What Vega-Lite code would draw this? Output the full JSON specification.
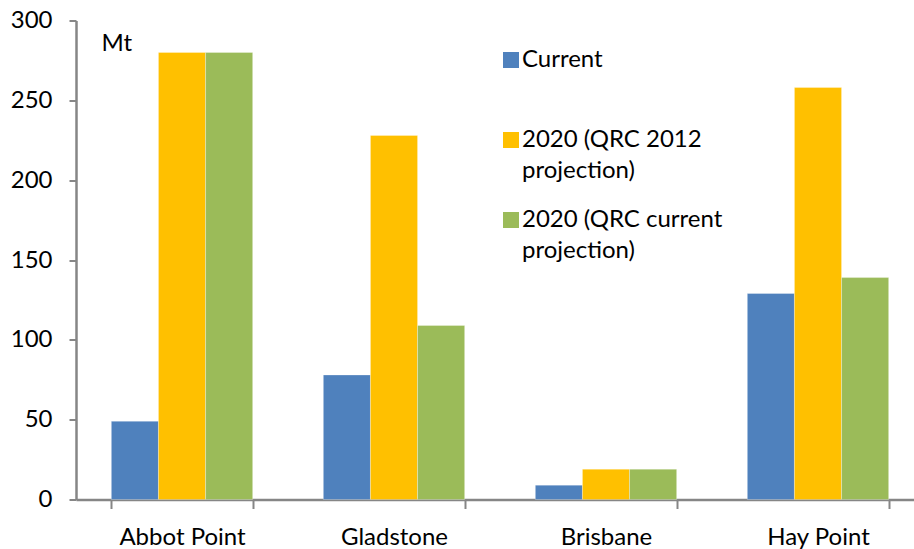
{
  "$schema": "https://vega.github.io/schema/vega-lite/v6.json",
  "width": 848,
  "height": 479,
  "autosize": "none",
  "padding": {"left": 76, "top": 20.5, "right": 0, "bottom": 49.5},
  "config": {
    "view": {"stroke": null},
    "font": "Lato",
    "axis": {"grid": false, "labelFont": "Lato", "labelColor": "#000000", "titleFont": "Lato"},
    "legend": {"labelFont": "Lato"},
    "style": {"guide-label": {"lineHeight": 31}}
  },
  "data": {
    "values": [
      {"port": "Abbot Point", "series": "Current", "mt": 49},
      {"port": "Abbot Point", "series": "2020 (QRC 2012 projection)", "mt": 280},
      {"port": "Abbot Point", "series": "2020 (QRC current projection)", "mt": 280},
      {"port": "Gladstone", "series": "Current", "mt": 78},
      {"port": "Gladstone", "series": "2020 (QRC 2012 projection)", "mt": 228},
      {"port": "Gladstone", "series": "2020 (QRC current projection)", "mt": 109},
      {"port": "Brisbane", "series": "Current", "mt": 9},
      {"port": "Brisbane", "series": "2020 (QRC 2012 projection)", "mt": 19},
      {"port": "Brisbane", "series": "2020 (QRC current projection)", "mt": 19},
      {"port": "Hay Point", "series": "Current", "mt": 129},
      {"port": "Hay Point", "series": "2020 (QRC 2012 projection)", "mt": 258},
      {"port": "Hay Point", "series": "2020 (QRC current projection)", "mt": 139}
    ]
  },
  "mark": {"type": "bar", "stroke": "#ffffff", "strokeWidth": 0.5, "strokeOpacity": 0.6},
  "encoding": {
    "x": {
      "field": "port",
      "type": "nominal",
      "sort": ["Abbot Point", "Gladstone", "Brisbane", "Hay Point"],
      "scale": {"paddingInner": 0.3333, "paddingOuter": 0.1667},
      "axis": {
        "title": null,
        "labelAngle": 0,
        "labelFontSize": 24,
        "labelPadding": 17,
        "tickBand": "extent",
        "tickSize": 9,
        "tickWidth": 2,
        "tickColor": "#868686",
        "domainColor": "#868686",
        "domainWidth": 2.5
      }
    },
    "xOffset": {
      "field": "series",
      "type": "nominal",
      "sort": ["Current", "2020 (QRC 2012 projection)", "2020 (QRC current projection)"],
      "scale": {"paddingInner": 0, "paddingOuter": 0}
    },
    "y": {
      "field": "mt",
      "type": "quantitative",
      "scale": {"domain": [0, 300], "nice": false},
      "axis": {
        "title": "Mt",
        "titleAngle": 0,
        "titleAlign": "left",
        "titleBaseline": "alphabetic",
        "titleX": 25,
        "titleY": 30,
        "titleFontSize": 24,
        "titleFontWeight": "normal",
        "titleColor": "#000000",
        "values": [0, 50, 100, 150, 200, 250, 300],
        "labelFontSize": 24,
        "labelPadding": 17,
        "tickSize": 7,
        "tickWidth": 2,
        "tickColor": "#868686",
        "domainColor": "#868686",
        "domainWidth": 2.5
      }
    },
    "color": {
      "field": "series",
      "type": "nominal",
      "sort": ["Current", "2020 (QRC 2012 projection)", "2020 (QRC current projection)"],
      "scale": {"range": ["#4F81BD", "#FFC000", "#9BBB59"]},
      "legend": {
        "title": null,
        "orient": "none",
        "legendX": 423,
        "legendY": 27.5,
        "padding": 0,
        "gridAlign": "all",
        "symbolType": "square",
        "symbolSize": 256,
        "symbolStrokeWidth": 0,
        "symbolOpacity": 1,
        "labelFontSize": 24,
        "labelColor": "#000000",
        "labelOffset": -1,
        "labelLimit": 400,
        "labelBaseline": "middle",
        "rowPadding": 25,
        "labelExpr": "indexof(datum.label, ' projection') > 0 ? [substring(datum.label, 0, indexof(datum.label, ' projection')), 'projection)'] : [datum.label, '']"
      }
    }
  }
}
